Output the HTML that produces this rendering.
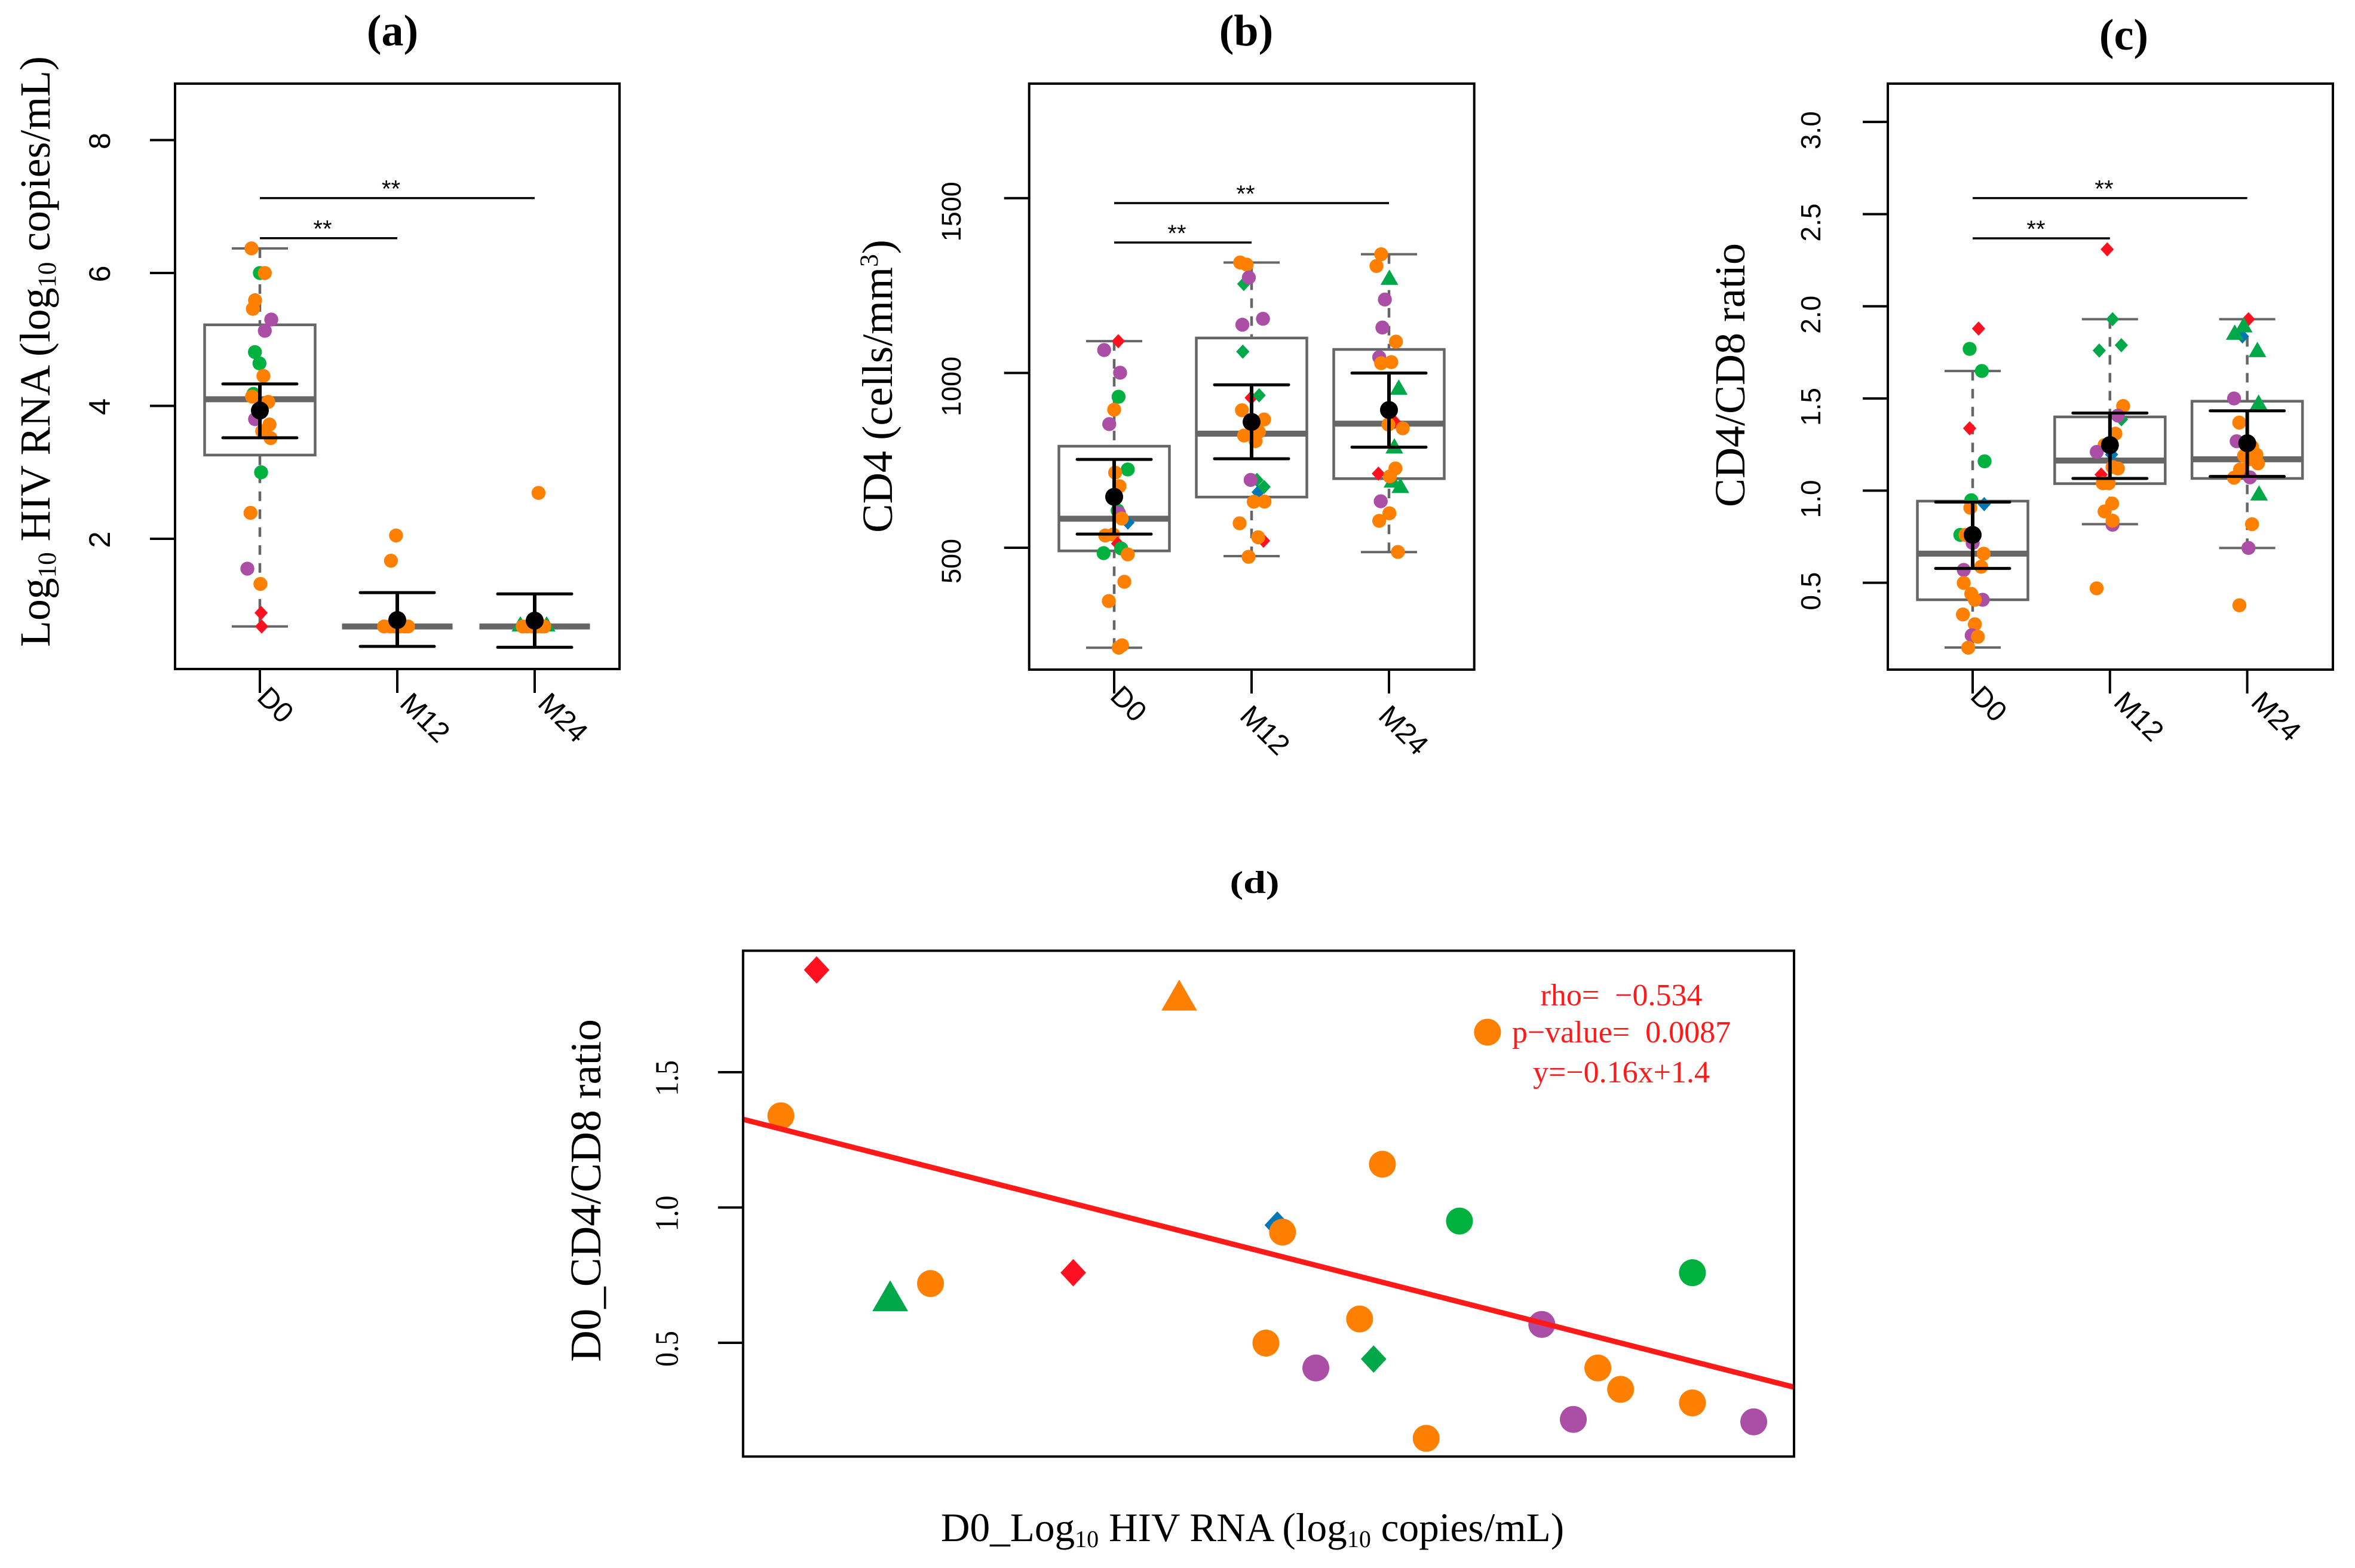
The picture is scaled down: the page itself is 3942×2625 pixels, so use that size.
<!DOCTYPE html>
<html lang="en">
<head>
<meta charset="utf-8">
<title>HIV RNA, CD4 and CD4/CD8 ratio panels</title>
<style>
html,body{margin:0;padding:0;background:#fff;}
svg{display:block;}
.serif{font-family:"Liberation Serif",serif;}
.sans{font-family:"Liberation Sans",sans-serif;}
text{white-space:pre;}
</style>
</head>
<body>
<svg id="figure" xmlns="http://www.w3.org/2000/svg" width="3942" height="2625" viewBox="0 0 3942 2625">
<rect x="0" y="0" width="3942" height="2625" fill="#fff"/>
<g class="serif" fill="#000">
<text x="657" y="76" font-size="74" font-weight="bold" text-anchor="middle">(a)</text>
<text x="2086" y="76" font-size="74" font-weight="bold" text-anchor="middle">(b)</text>
<text x="3555" y="83" font-size="74" font-weight="bold" text-anchor="middle">(c)</text>
<text transform="translate(2100,1495) scale(1,0.78)" font-size="68" font-weight="bold" text-anchor="middle">(d)</text>
<text transform="translate(83,588.5) rotate(-90)" font-size="71.7" text-anchor="middle">Log<tspan font-size="43" dy="10">10</tspan><tspan dy="-10"> HIV RNA (log</tspan><tspan font-size="43" dy="10">10</tspan><tspan dy="-10"> copies/mL)</tspan></text>
<text transform="translate(1493,646.5) rotate(-90)" font-size="72.5" text-anchor="middle">CD4 (cells/mm<tspan font-size="43" dy="-24">3</tspan><tspan dy="24">)</tspan></text>
<text transform="translate(2920,628) rotate(-90)" font-size="72" text-anchor="middle">CD4/CD8 ratio</text>
<text transform="translate(1005,1993) rotate(-90)" font-size="73" text-anchor="middle">D0_CD4/CD8 ratio</text>
<text x="2096.5" y="2580" font-size="67.3" text-anchor="middle">D0_Log<tspan font-size="40" dy="10">10</tspan><tspan dy="-10"> HIV RNA (log</tspan><tspan font-size="40" dy="10">10</tspan><tspan dy="-10"> copies/mL)</tspan></text>
<text x="2714" y="1683" font-size="52" fill="#ff1a1a" text-anchor="middle">rho=  −0.534</text>
<text x="2714" y="1745" font-size="52" fill="#ff1a1a" text-anchor="middle">p−value=  0.0087</text>
<text x="2714" y="1812" font-size="52" fill="#ff1a1a" text-anchor="middle">y=−0.16x+1.4</text>
</g>
</svg>
<script>
/* ---------- shared categories ---------- */
const categories = ['D0', 'M12', 'M24'];

/* ---------- panel (a) Log10 HIV RNA ---------- */
const aYTicks = [2, 4, 6, 8];
const aD0Values = [6.37,6.00,6.00,5.59,5.46,5.30,5.13,4.81,4.64,4.45,4.18,4.14,4.06,3.80,3.72,3.62,3.515,3.00,2.39,1.55,1.32,0.885,0.68];
const aD0Jitter = [-.061,0,.036,-.035,-.051,.083,.036,-.036,-.003,.026,-.047,-.057,.061,-.035,.07,.017,.078,.009,-.068,-.091,.004,.009,.013];
const aD0Groups = ['o','g','o','o','o','p','p','g','g','o','g','o','o','p','o','o','o','g','o','p','o','R','R'];
const aM12Values = [0.68,0.68,0.68,0.68,0.68,0.68,1.67,2.05];
const aM12Jitter = [-.096,-.052,-.017,.017,.052,.078,-.046,-.009];
const aM12Groups = ['o','o','o','o','o','o','o','o'];
const aM24Values = [0.72,0.72,0.68,0.68,0.68,0.68,0.68,0.68,2.69];
const aM24Jitter = [-.104,.087,-.087,-.052,-.017,.017,.052,.07,.028];
const aM24Groups = ['T','T','o','o','o','o','o','o','o'];
const aWhiskerHigh = [6.37,0.68,0.68];
const aBoxHigh = [5.22,0.68,0.68];
const aMedian = [4.10,0.68,0.68];
const aBoxLow = [3.26,0.68,0.68];
const aWhiskerLow = [0.68,0.68,0.68];
const aMean = [3.93,0.777,0.768];
const aErrHigh = [4.33,1.19,1.17];
const aErrLow = [3.52,0.38,0.367];

/* ---------- panel (b) CD4 ---------- */
const bYTicks = [500, 1000, 1500];
const bD0Values = [1091,1065.6,1000.7,932,895,853.7,724,715,676,606.6,599,572,583.6,535,538,512,498,484.6,481,402.6,347.6,221,214];
const bD0Jitter = [.03,-.073,.043,.032,0,-.036,.099,.007,.039,.025,.035,.1,.055,-.065,-.007,.025,.051,-.077,.099,.074,-.039,.057,.033];
const bD0Groups = ['R','p','p','g','o','p','g','o','o','g','p','B','o','o','o','R','g','g','o','o','o','o','o'];
const bM12Values = [1316,1310,1254.6,1273,1155,1138,1061,929,936,893.4,867,831.5,821,805,694,694,659,674,631.6,632,570,520,530,474];
const bM12Jitter = [-.083,-.036,-.057,-.02,.083,-.067,-.064,-.003,.055,-.07,.091,.053,-.055,.029,.039,-.007,.048,.091,.016,.094,-.087,.087,.048,-.022];
const bM12Groups = ['o','o','G','p','p','p','G','R','G','o','o','o','o','o','G','p','B','G','o','o','o','R','o','o'];
const bM24Values = [1339.6,1306,1274,1210,1130,1089.6,1045,1028,1031,959.6,860,852.5,841.7,791.5,712,694,727,704,678.6,633,598.6,577,488];
const bM24Jitter = [-.057,-.091,.003,-.03,-.048,.051,-.071,-.057,.017,.071,.042,-.004,.1,.039,-.077,.025,.047,.006,.083,-.06,.003,-.071,.065];
const bM24Groups = ['o','o','T','p','p','o','p','o','o','T','R','o','o','T','R','T','o','o','T','p','o','o','o'];
const bWhiskerHigh = [1091,1316,1339.6];
const bBoxHigh = [790.5,1100,1067.3];
const bMedian = [583,826.4,855];
const bBoxLow = [491,645,697.7];
const bWhiskerLow = [214,476,487.6];
const bMean = [645.7,860,894];
const bErrHigh = [752.7,966,999.7];
const bErrLow = [539,754.7,787.8];

/* ---------- panel (c) CD4/CD8 ratio ---------- */
const cYTicks = [0.5, 1.0, 1.5, 2.0, 2.5, 3.0];
const cD0Values = [1.879,1.769,1.649,1.338,1.159,.948,.927,.907,.76,.76,.716,.658,.587,.57,.499,.408,.44,.408,.328,.275,.215,.207,.148];
const cD0Jitter = [.043,-.022,.067,-.022,.087,-.01,.084,-.017,-.09,-.052,0,.08,.062,-.065,-.065,.073,-.01,.016,-.071,.016,-.007,.038,-.032];
const cD0Groups = ['R','g','g','R','g','g','B','o','g','o','p','o','o','p','o','p','o','o','o','o','p','o','o'];
const cM12Values = [2.309,1.93,1.789,1.76,1.459,1.387,1.407,1.309,1.247,1.21,1.196,1.128,1.12,1.087,1.04,1.04,.93,.887,.815,.837,.47];
const cM12Jitter = [-.02,.019,.083,-.078,.096,.084,.058,.04,-.039,-.096,.012,.019,.058,-.064,-.052,-.009,.016,-.039,.019,.019,-.097];
const cM12Groups = ['R','G','G','G','o','G','p','o','o','p','B','o','o','R','o','o','o','o','p','o','o'];
const cM24Values = [1.93,1.837,1.86,1.9,1.766,1.5,1.48,1.369,1.268,1.238,1.195,1.189,1.148,1.17,1.115,1.07,1.072,.988,.818,.689,.378];
const cM24Jitter = [.009,-.035,-.091,-.026,.074,-.096,.083,-.058,-.077,.035,.067,-.023,.078,.013,-.052,-.096,.02,.086,.035,.009,-.057];
const cM24Groups = ['R','B','T','T','T','p','T','o','p','o','o','o','o','o','o','o','p','T','o','p','o'];
const cWhiskerHigh = [1.649,1.93,1.93];
const cBoxHigh = [.943,1.40,1.485];
const cMedian = [.658,1.163,1.17];
const cBoxLow = [.408,1.038,1.066];
const cWhiskerLow = [.149,.818,.689];
const cMean = [.76,1.247,1.257];
const cErrHigh = [.938,1.421,1.433];
const cErrLow = [.578,1.066,1.077];

/* ---------- panel (d) correlation ---------- */
const dYTicks = [0.5, 1.0, 1.5];
const dXValues = [.92,2.99,4.75,.716,4.15,4.59,3.55,3.58,5.92,2.385,1.57,1.34,4.02,5.06,3.485,4.10,3.77,5.38,5.51,5.92,5.24,6.27,4.4];
const dYValues = [1.878,1.785,1.648,1.339,1.16,.95,.935,.909,.759,.759,.719,.674,.588,.568,.499,.44,.407,.407,.328,.278,.217,.208,.147];
const dGroups = ['R','U','o','o','o','g','B','o','g','R','o','T','o','p','o','G','p','o','o','o','p','p','o'];
const dLineSlope = [-0.165];
const dLineIntercept = [1.4085];

const svgNS = 'http://www.w3.org/2000/svg';
const root = document.getElementById('figure');
const colors = {o:'#ff7f00', g:'#00b140', p:'#aa4fa5', R:'#ff1020', G:'#00a84a', B:'#0077b5', T:'#00a84a', U:'#ff7f00'};
const groupNames = {o:'orange-circle', g:'green-circle', p:'purple-circle', R:'red-diamond', G:'green-diamond', B:'blue-diamond', T:'green-triangle', U:'orange-triangle'};
const GRAY = '#666666';

function mk(tag, attrs, name, parent) {
  const el = document.createElementNS(svgNS, tag);
  for (const k in attrs) el.setAttribute(k, attrs[k]);
  
  
  parent.appendChild(el);
  return el;
}
function line(x1, y1, x2, y2, stroke, w, name, parent, extra) {
  return mk('line', Object.assign({x1, y1, x2, y2, stroke, 'stroke-width': w}, extra || {}), name, parent);
}
function drawMark(group, x, y, r, name, parent) {
  if (group === 'o' || group === 'g' || group === 'p') {
    return mk('circle', {cx: x, cy: y, r: r, fill: colors[group]}, name, parent);
  }
  if (group === 'T' || group === 'U') {
    const hw = r * 1.27, hh = r * 1.1;
    return mk('polygon', {points: `${x},${y - hh} ${x + hw},${y + hh} ${x - hw},${y + hh}`, fill: colors[group]}, name, parent);
  }
  const hw = r * 0.95, hh = r * 1.02;
  return mk('polygon', {points: `${x},${y - hh} ${x + hw},${y} ${x},${y + hh} ${x - hw},${y}`, fill: colors[group]}, name, parent);
}

function drawBoxPanel(cfg) {
  const g = mk('g', {}, cfg.id + '-chart', root);
  const yScale = v => cfg.top + (cfg.yMax - v) / (cfg.yMax - cfg.yMin) * (cfg.bottom - cfg.top);
  const xScale = (cat, jit) => cfg.x0 + (cat + jit) * cfg.step;

  // y axis ticks
  cfg.yTicks.forEach(t => {
    const y = yScale(t);
    line(cfg.left - 42, y, cfg.left, y, '#000', 4, cfg.id + '-y-tick', g);
    const lab = mk('text', {transform: `translate(${cfg.tickLabelX},${y + cfg.tickLabelDy}) rotate(-90)`, 'text-anchor': 'middle', 'font-size': cfg.tickFont, 'class': 'sans', fill: '#000'}, cfg.id + '-y-tick-label', g);
    lab.textContent = cfg.tickFmt(t);
  });
  // x axis ticks
  categories.forEach((c, i) => {
    const x = xScale(i, 0);
    line(x, cfg.bottom, x, cfg.bottom + 40, '#000', 4, cfg.id + '-x-tick', g);
    const lab = mk('text', {transform: `translate(${x + cfg.labelDx[i]},${cfg.labelY[i]}) rotate(45)`, 'font-size': 48, 'class': 'sans', fill: '#000'}, cfg.id + '-x-tick-label', g);
    lab.textContent = c;
  });
  // boxes
  categories.forEach((c, i) => {
    const x = xScale(i, 0);
    const hw = 92.5, cap = 47;
    const yHi = yScale(cfg.boxHigh[i]), yLo = yScale(cfg.boxLow[i]);
    line(x, yScale(cfg.whiskerHigh[i]), x, yHi, GRAY, 4.5, cfg.id + '-whisker-upper', g, {'stroke-dasharray': '16 14'});
    line(x, yScale(cfg.whiskerLow[i]), x, yLo, GRAY, 4.5, cfg.id + '-whisker-lower', g, {'stroke-dasharray': '16 14'});
    line(x - cap, yScale(cfg.whiskerHigh[i]), x + cap, yScale(cfg.whiskerHigh[i]), GRAY, 4, cfg.id + '-whisker-cap-upper', g);
    line(x - cap, yScale(cfg.whiskerLow[i]), x + cap, yScale(cfg.whiskerLow[i]), GRAY, 4, cfg.id + '-whisker-cap-lower', g);
    mk('rect', {x: x - hw, y: yHi, width: 2 * hw, height: Math.max(0, yLo - yHi), fill: '#fff', stroke: GRAY, 'stroke-width': 4.5}, cfg.id + '-box-' + c, g);
    line(x - hw, yScale(cfg.median[i]), x + hw, yScale(cfg.median[i]), GRAY, 10, cfg.id + '-median-' + c, g);
  });
  // jittered points
  categories.forEach((c, i) => {
    const vals = cfg.values[i], jit = cfg.jitter[i], grp = cfg.groups[i];
    vals.forEach((v, j) => {
      drawMark(grp[j], xScale(i, jit[j]), yScale(v), 11.7, cfg.id + '-point-' + c + '-' + groupNames[grp[j]], g);
    });
  });
  // mean and error bars
  categories.forEach((c, i) => {
    const x = xScale(i, 0), cap = 62;
    const yH = yScale(cfg.errHigh[i]), yL = yScale(cfg.errLow[i]);
    line(x, yH, x, yL, '#000', 6, cfg.id + '-error-bar-' + c, g);
    line(x - cap, yH, x + cap, yH, '#000', 5, cfg.id + '-error-cap-upper', g, {'stroke-linecap': 'round'});
    line(x - cap, yL, x + cap, yL, '#000', 5, cfg.id + '-error-cap-lower', g, {'stroke-linecap': 'round'});
    mk('circle', {cx: x, cy: yScale(cfg.mean[i]), r: 15, fill: '#000'}, cfg.id + '-mean-' + c, g);
  });
  // significance brackets
  line(xScale(0, 0), cfg.sigY[0], xScale(1, 0), cfg.sigY[0], '#000', 3.5, cfg.id + '-significance-line-d0-m12', g);
  line(xScale(0, 0), cfg.sigY[1], xScale(2, 0), cfg.sigY[1], '#000', 3.5, cfg.id + '-significance-line-d0-m24', g);
  const s1 = mk('text', {x: cfg.starX[0], y: cfg.sigY[0] - 2, 'text-anchor': 'middle', 'font-size': 40, 'class': 'sans', fill: '#000'}, cfg.id + '-significance-stars-d0-m12', g);
  s1.textContent = '**';
  const s2 = mk('text', {x: cfg.starX[1], y: cfg.sigY[1] - 2, 'text-anchor': 'middle', 'font-size': 40, 'class': 'sans', fill: '#000'}, cfg.id + '-significance-stars-d0-m24', g);
  s2.textContent = '**';
  // frame
  mk('rect', {x: cfg.left, y: cfg.top, width: cfg.right - cfg.left, height: cfg.bottom - cfg.top, fill: 'none', stroke: '#000', 'stroke-width': 4}, cfg.id + '-plot-frame', g);
}

drawBoxPanel({
  id: 'panel-a', left: 293, right: 1037, top: 140, bottom: 1120, yMin: 0.04, yMax: 8.85,
  x0: 435, step: 230, tickLabelX: 184, tickLabelDy: 1.5, tickFont: 50, tickFmt: t => String(t), yTicks: aYTicks,
  labelDx: [-7, 2, 3], labelY: [1170, 1180, 1180], sigY: [398.7, 331.6], starX: [540, 654.5],
  values: [aD0Values, aM12Values, aM24Values], jitter: [aD0Jitter, aM12Jitter, aM24Jitter], groups: [aD0Groups, aM12Groups, aM24Groups],
  whiskerHigh: aWhiskerHigh, boxHigh: aBoxHigh, median: aMedian, boxLow: aBoxLow, whiskerLow: aWhiskerLow, mean: aMean, errHigh: aErrHigh, errLow: aErrLow
});
drawBoxPanel({
  id: 'panel-b', left: 1722.7, right: 2467.7, top: 140, bottom: 1121, yMin: 151.4, yMax: 1827.7,
  x0: 1865, step: 230, tickLabelX: 1608, tickLabelDy: 22.5, tickFont: 45, tickFmt: t => String(t), yTicks: bYTicks,
  labelDx: [-9, -22, -20], labelY: [1168, 1201, 1201], sigY: [406, 340], starX: [1970, 2085],
  values: [bD0Values, bM12Values, bM24Values], jitter: [bD0Jitter, bM12Jitter, bM24Jitter], groups: [bD0Groups, bM12Groups, bM24Groups],
  whiskerHigh: bWhiskerHigh, boxHigh: bBoxHigh, median: bMedian, boxLow: bBoxLow, whiskerLow: bWhiskerLow, mean: bMean, errHigh: bErrHigh, errLow: bErrLow
});
drawBoxPanel({
  id: 'panel-c', left: 3160, right: 3905, top: 140, bottom: 1121, yMin: 0.029, yMax: 3.208,
  x0: 3302, step: 229.8, tickLabelX: 3047, tickLabelDy: 14, tickFont: 46, tickFmt: t => t.toFixed(1), yTicks: cYTicks,
  labelDx: [-6, 4, 4], labelY: [1168, 1178, 1178], sigY: [399, 331.6], starX: [3408, 3522],
  values: [cD0Values, cM12Values, cM24Values], jitter: [cD0Jitter, cM12Jitter, cM24Jitter], groups: [cD0Groups, cM12Groups, cM24Groups],
  whiskerHigh: cWhiskerHigh, boxHigh: cBoxHigh, median: cMedian, boxLow: cBoxLow, whiskerLow: cWhiskerLow, mean: cMean, errHigh: cErrHigh, errLow: cErrLow
});

(function drawScatter() {
  const left = 1243.8, right = 3003, top = 1591.6, bottom = 2438.4;
  const xMin = 0.5, xMax = 6.5, yMin = 0.0797, yMax = 1.949;
  const xScale = v => left + (v - xMin) / (xMax - xMin) * (right - left);
  const yScale = v => top + (yMax - v) / (yMax - yMin) * (bottom - top);
  const g = mk('g', {}, 'panel-d-chart', root);
  dYTicks.forEach(t => {
    const y = yScale(t);
    line(left - 42, y, left, y, '#000', 4, 'panel-d-y-tick', g);
    const lab = mk('text', {transform: `translate(1134.5,${y + 10}) rotate(-90) scale(1,1.15)`, 'text-anchor': 'middle', 'font-size': 48, 'class': 'serif', fill: '#000'}, 'panel-d-y-tick-label', g);
    lab.textContent = t.toFixed(1);
  });
  dXValues.forEach((v, i) => {
    const gr = dGroups[i];
    const r = gr === 'T' || gr === 'U' ? 23.5 : 22.5;
    drawMark(gr, xScale(v), yScale(dYValues[i]), r, 'panel-d-point-' + groupNames[gr], g);
  });
  const lineAt = x => dLineSlope[0] * x + dLineIntercept[0];
  line(xScale(xMin), yScale(lineAt(xMin)), xScale(xMax), yScale(lineAt(xMax)), '#ff1a1a', 9, 'panel-d-regression-line', g);
  mk('rect', {x: left, y: top, width: right - left, height: bottom - top, fill: 'none', stroke: '#000', 'stroke-width': 4}, 'panel-d-plot-frame', g);
})();
</script>
</body>
</html>
